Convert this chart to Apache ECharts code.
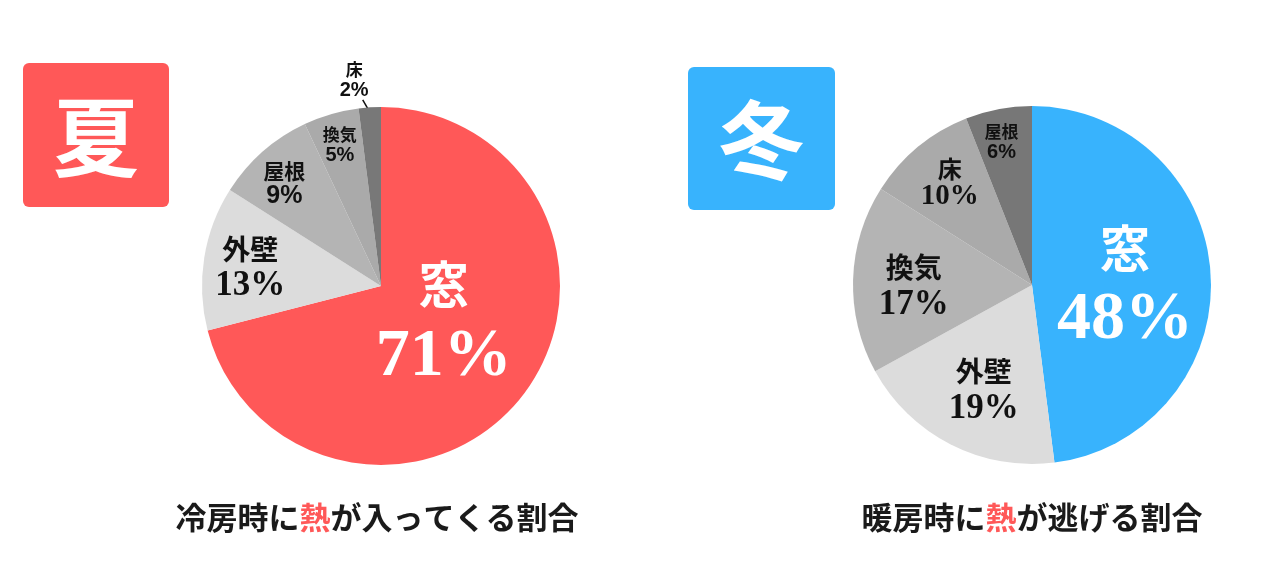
<!DOCTYPE html>
<html><head><meta charset="utf-8">
<script src="https://cdn.jsdelivr.net/npm/echarts@6/dist/echarts.min.js"></script>
<style>html,body{margin:0;padding:0;background:#fff}#c{width:1280px;height:571px}</style>
</head><body><div id="c"></div>
<script>
// ---- data ----
const summerNames = ['窓', '外壁', '屋根', '換気', '床'];
const summerValues = [71, 13, 9, 5, 2];
const winterNames = ['窓', '外壁', '換気', '床', '屋根'];
const winterValues = [48, 19, 17, 10, 6];
const summerTitle = ['冷房時に', '熱', 'が入ってくる割合'];
const winterTitle = ['暖房時に', '熱', 'が逃げる割合'];
const summerBadge = '夏';
const winterBadge = '冬';

// ---- styles / layout ----
const RED = '#FF5858', BLUE = '#38B3FD';
const summerColors = [RED, '#DCDCDC', '#B4B4B4', '#AAAAAA', '#787878'];
const winterColors = [BLUE, '#DCDCDC', '#B4B4B4', '#AAAAAA', '#777777'];
const JP = '"Noto Sans CJK JP", sans-serif';
const SERIF = '"Liberation Serif", "DejaVu Serif", "Noto Sans CJK JP", serif';
const SANS = '"Liberation Sans", Arial, "Noto Sans CJK JP", sans-serif';
const cls = {
  xl: {n: [50, JP, 64], v: [68, SERIF, 82], color: '#fff'},
  l:  {n: [28, JP, 36], v: [35, SERIF, 38], color: '#111'},
  m:  {n: [24, JP, 28], v: [29, SERIF, 29], color: '#111'},
  s2: {n: [21, JP, 25], v: [25, SANS, 25], color: '#111'},
  s:  {n: [17, JP, 21], v: [20, SANS, 21], color: '#111'}
};
const summerCls = ['xl', 'l', 's2', 's', 's'];
const winterCls = ['xl', 'l', 'l', 'm', 's'];
// label block offsets relative to pie centre, in units of radius
const summerLab = [[0.35, 0.22], [-0.73, -0.10], [-0.54, -0.57], [-0.23, -0.79], [-0.15, -1.15]];
const winterLab = [[0.52, 0.02], [-0.27, 0.59], [-0.66, 0.01], [-0.46, -0.57], [-0.17, -0.80]];
const R = 179;
const centers = [[381, 286], [1032, 285]];

function richFor(c) {
  const s = cls[c];
  return {
    n: {fontSize: s.n[0], fontFamily: s.n[1], lineHeight: s.n[2], fontWeight: 'bold', color: s.color, align: 'center'},
    v: {fontSize: s.v[0], fontFamily: s.v[1], lineHeight: s.v[2], fontWeight: 'bold', color: s.color, align: 'center'}
  };
}
function makeData(names, values, colors, classes, outsideIdx) {
  return names.map((n, i) => ({
    name: n, value: values[i],
    itemStyle: {color: colors[i]},
    label: {
      show: true,
      position: i === outsideIdx ? 'outside' : 'inside',
      formatter: '{n|{b}}\n{v|{c}%}',
      rich: richFor(classes[i])
    },
    labelLine: {show: i === outsideIdx, lineStyle: {color: '#111', width: 1.5}, length: 6, length2: 0}
  }));
}
function layoutFor(labs, values, ci, outsideIdx) {
  return function (p) {
    const [cx, cy] = centers[ci];
    const o = labs[p.dataIndex];
    const res = {x: cx + o[0] * R, y: cy + o[1] * R, align: 'center', verticalAlign: 'middle'};
    if (p.dataIndex === outsideIdx) {
      const total = values.reduce((a, b) => a + b, 0);
      let cum = 0;
      for (let i = 0; i < p.dataIndex; i++) cum += values[i];
      const mid = (cum + values[p.dataIndex] / 2) / total * 2 * Math.PI;
      const a2 = mid - 0.035;
      res.labelLinePoints = [
        [cx + Math.sin(mid) * R * 0.97, cy - Math.cos(mid) * R * 0.97],
        [cx + Math.sin(a2) * R * 1.045, cy - Math.cos(a2) * R * 1.045]
      ];
    }
    return res;
  };
}
function titleText(parts, x) {
  return {
    type: 'text', x: x, y: 517,
    style: {
      text: '{a|' + parts[0] + '}{r|' + parts[1] + '}{a|' + parts[2] + '}',
      align: 'center', verticalAlign: 'middle',
      rich: {
        a: {fontSize: 31, fontWeight: 'bold', fontFamily: JP, fill: '#1a1a1a'},
        r: {fontSize: 31, fontWeight: 'bold', fontFamily: JP, fill: RED}
      }
    }
  };
}
function badge(txt, color, x, y, w, h) {
  return [
    {type: 'rect', shape: {x: x, y: y, width: w, height: h, r: 6}, style: {fill: color}},
    {type: 'text', x: x + w / 2, y: y + h / 2 + 2, style: {text: txt, fill: '#fff', fontSize: 86, fontWeight: 'bold', fontFamily: JP, align: 'center', verticalAlign: 'middle'}}
  ];
}

const chart = echarts.init(document.getElementById('c'), null, {renderer: 'canvas'});
chart.setOption({
  backgroundColor: '#fff',
  animation: false,
  graphic: [].concat(
    badge(summerBadge, RED, 23, 63, 146, 144),
    badge(winterBadge, BLUE, 688, 67, 147, 143),
    [titleText(summerTitle, 377), titleText(winterTitle, 1032)]
  ),
  series: [
    {
      type: 'pie', center: centers[0], radius: R, startAngle: 90, clockwise: true,
      data: makeData(summerNames, summerValues, summerColors, summerCls, 4),
      labelLayout: layoutFor(summerLab, summerValues, 0, 4)
    },
    {
      type: 'pie', center: centers[1], radius: R, startAngle: 90, clockwise: true,
      data: makeData(winterNames, winterValues, winterColors, winterCls, -1),
      labelLayout: layoutFor(winterLab, winterValues, 1, -1)
    }
  ]
});
</script></body></html>
